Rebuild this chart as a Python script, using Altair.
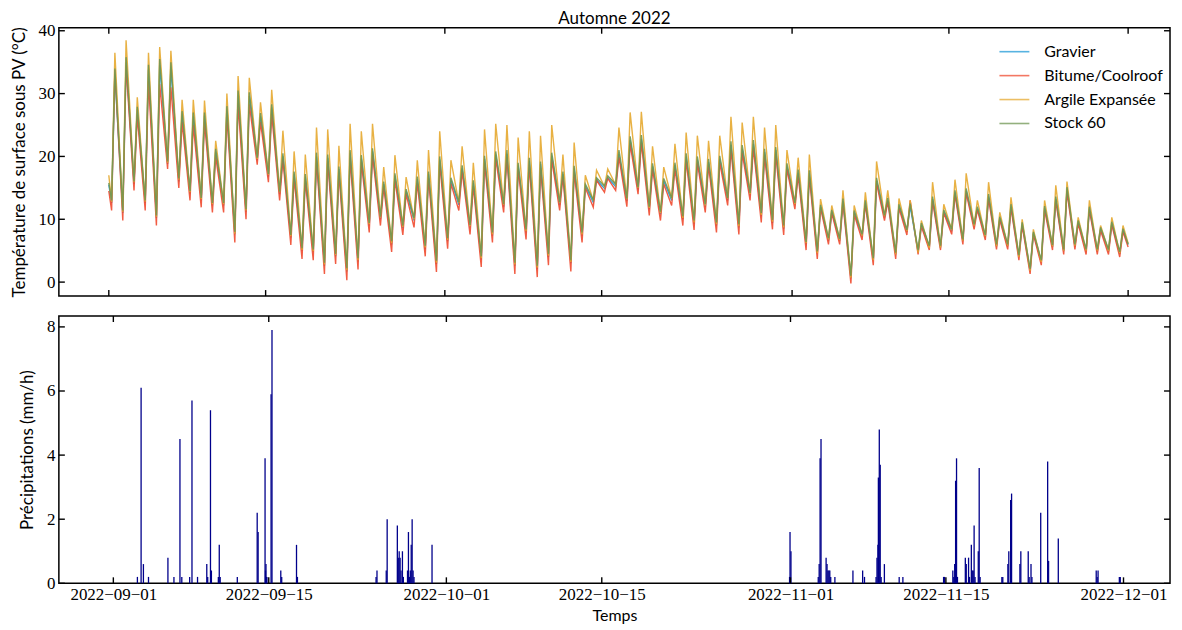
import altair as alt
import pandas as pd

# ---------------- data ----------------
series_names = ["Gravier", "Bitume/Coolroof", "Argile Expansée", "Stock 60"]
series_colors = ["#1f9ad8", "#f04a2f", "#e6a92f", "#6f9652"]

# value at 2022-09-01 00:00 and at 2022-12-01 00:00
start_values = [15.5, 14.5, 17.0, 15.8]
end_values = [6.0, 5.6, 6.2, 6.0]

# daily afternoon maxima (Sep 1 .. Nov 30)
argile_max = [36.5, 38.5, 29.4, 36.5, 37.4, 36.8, 29.0, 29.0, 28.9, 22.5,
              30.0, 32.8, 32.5, 28.6, 30.6, 24.1, 20.8, 20.3, 24.6, 24.3,
              21.7, 25.2, 24.0, 25.2, 18.3, 20.2, 16.7, 19.4, 21.0, 24.0,
              19.4, 21.6, 19.0, 24.3, 25.2, 25.0, 23.0, 24.0, 23.3, 25.0,
              20.3, 22.2, 17.0, 17.8, 18.0, 24.6, 27.0, 27.1, 21.6, 18.3,
              22.0, 23.8, 23.3, 22.5, 23.3, 26.3, 25.4, 26.3, 24.6, 25.0,
              21.0, 19.8, 20.3, 13.2, 12.2, 14.6, 12.2, 14.3, 19.2, 14.6,
              13.3, 13.0, 9.8, 15.9, 12.4, 16.3, 17.3, 13.0, 15.9, 11.1,
              13.5, 10.0, 8.4, 13.0, 15.4, 16.0, 10.3, 13.0, 9.0, 10.3,
              9.0]
stock_max = [34.0, 35.8, 27.9, 34.6, 35.5, 35.0, 27.2, 27.0, 27.0, 21.2,
             28.0, 30.5, 30.2, 26.9, 28.3, 20.5, 17.6, 17.2, 20.6, 20.3,
             18.4, 21.0, 20.2, 21.3, 16.0, 17.3, 14.8, 16.8, 17.6, 20.0,
             16.6, 18.6, 16.2, 20.1, 20.8, 21.0, 19.0, 19.8, 19.2, 20.6,
             17.6, 18.5, 15.6, 16.6, 16.9, 21.0, 23.2, 23.4, 18.9, 16.5,
             19.0, 20.5, 20.0, 19.6, 20.1, 22.4, 21.8, 22.6, 21.2, 21.5,
             18.9, 17.9, 17.8, 12.3, 11.5, 13.3, 11.4, 13.0, 16.6, 13.4,
             12.4, 12.5, 9.4, 13.6, 11.5, 14.6, 14.9, 12.0, 14.0, 10.4,
             12.4, 9.5, 8.0, 12.1, 13.6, 15.1, 9.8, 12.0, 8.7, 9.6,
             8.5]
gravier_max = [33.2, 35.0, 27.5, 33.8, 34.6, 34.2, 26.7, 26.4, 26.5, 20.8,
               27.4, 29.8, 29.6, 26.4, 27.8, 20.0, 17.2, 16.8, 20.0, 19.8,
               18.0, 20.5, 19.7, 20.8, 15.6, 16.9, 14.5, 16.4, 17.2, 19.5,
               16.2, 18.1, 15.8, 19.6, 20.3, 20.4, 18.6, 19.3, 18.8, 20.1,
               17.2, 18.1, 15.3, 16.3, 16.6, 20.4, 22.6, 22.8, 18.4, 16.1,
               18.6, 20.0, 19.5, 19.1, 19.6, 21.8, 21.2, 22.0, 20.7, 21.0,
               18.4, 17.4, 17.3, 12.0, 11.2, 12.9, 11.1, 12.7, 16.1, 13.0,
               12.1, 12.1, 9.1, 13.2, 11.2, 14.2, 14.5, 11.7, 13.6, 10.1,
               12.0, 9.2, 7.8, 11.8, 13.2, 14.7, 9.5, 11.7, 8.4, 9.3,
               8.2]
bitume_max = [33.8, 34.5, 26.5, 32.0, 31.5, 31.0, 25.5, 25.0, 25.5, 20.0,
              26.5, 28.5, 28.3, 25.5, 26.8, 19.5, 16.5, 16.2, 19.4, 19.2,
              17.4, 19.8, 19.1, 20.2, 15.2, 16.3, 14.0, 15.8, 16.6, 18.9,
              15.7, 17.6, 15.3, 19.0, 19.7, 19.9, 18.0, 18.7, 18.2, 19.5,
              16.8, 17.5, 15.0, 16.2, 16.5, 19.9, 22.0, 22.2, 18.0, 15.6,
              18.0, 19.4, 19.0, 18.6, 19.0, 21.2, 20.6, 21.4, 20.1, 20.4,
              18.0, 17.0, 16.8, 11.8, 11.0, 12.6, 10.8, 12.4, 15.7, 12.8,
              11.8, 13.0, 8.9, 12.9, 11.0, 13.9, 14.2, 11.5, 13.3, 9.9,
              11.8, 9.0, 7.6, 11.5, 13.0, 14.4, 9.3, 11.5, 8.2, 9.1,
              8.0]

# daily early-morning minima (Sep 1 .. Nov 30)
bitume_min = [11.4, 9.8, 14.6, 11.4, 9.0, 18.0, 15.0, 13.0, 11.9, 11.1,
              11.1, 6.3, 10.0, 18.7, 15.9, 13.0, 5.9, 3.7, 3.5, 1.3,
              2.9, 0.3, 2.0, 7.9, 9.0, 4.8, 7.5, 8.7, 4.1, 1.6,
              5.3, 11.4, 7.6, 2.4, 6.3, 11.1, 1.3, 6.8, 0.8, 2.7,
              11.4, 1.7, 6.3, 11.9, 14.3, 14.6, 12.0, 14.0, 10.6, 9.8,
              12.2, 9.0, 8.3, 11.1, 7.9, 12.2, 7.6, 13.0, 9.5, 8.4,
              7.5, 11.6, 5.1, 3.7, 6.0, 6.0, -0.2, 6.7, 2.7, 9.8,
              3.7, 7.5, 4.4, 5.1, 5.1, 7.6, 6.0, 8.4, 6.7, 5.2,
              5.2, 3.5, 1.3, 2.7, 5.1, 4.4, 5.2, 4.4, 4.4, 4.4,
              4.0]
gravier_min = [12.6, 11.0, 15.6, 12.6, 10.2, 18.8, 16.0, 14.1, 13.0, 12.2,
               12.2, 7.6, 11.2, 19.4, 16.8, 14.0, 7.1, 5.0, 4.8, 2.6,
               4.1, 1.7, 3.3, 9.0, 10.0, 6.0, 8.6, 9.8, 5.3, 2.9,
               6.5, 12.3, 8.7, 3.6, 7.4, 12.0, 2.6, 7.9, 2.1, 4.0,
               12.3, 3.0, 7.4, 12.7, 14.9, 15.2, 12.9, 14.7, 11.6, 10.8,
               13.0, 10.0, 9.3, 12.0, 9.0, 13.0, 8.7, 13.8, 10.5, 9.4,
               8.5, 12.3, 6.0, 4.6, 6.6, 6.6, 0.6, 7.3, 3.5, 10.3,
               4.4, 8.0, 4.8, 5.5, 5.5, 8.1, 6.5, 8.9, 7.2, 5.7,
               5.7, 4.0, 1.8, 3.2, 5.6, 4.9, 5.7, 4.9, 4.9, 4.9,
               4.5]
stock_min = [13.0, 11.4, 16.0, 13.0, 10.6, 19.2, 16.5, 14.5, 13.4, 12.6,
             12.6, 8.0, 11.6, 19.8, 17.2, 14.4, 7.5, 5.4, 5.2, 3.1,
             4.5, 2.2, 3.8, 9.4, 10.4, 6.5, 9.0, 10.2, 5.8, 3.4,
             7.0, 12.7, 9.1, 4.1, 7.9, 12.4, 3.1, 8.4, 2.6, 4.5,
             12.7, 3.5, 7.9, 13.1, 15.3, 15.6, 13.3, 15.1, 12.0, 11.2,
             13.4, 10.5, 9.8, 12.4, 9.5, 13.4, 9.2, 14.2, 11.0, 9.9,
             9.0, 12.6, 6.4, 4.9, 7.0, 6.9, 1.0, 7.6, 3.8, 10.6,
             4.7, 8.3, 5.1, 5.8, 5.8, 8.4, 6.8, 9.2, 7.5, 6.0,
             6.0, 4.3, 2.1, 3.5, 5.9, 5.2, 6.0, 5.2, 5.2, 5.2,
             4.8]
argile_min = [12.8, 11.2, 15.9, 12.8, 10.4, 19.0, 16.3, 14.3, 13.2, 12.4,
              12.4, 7.7, 11.4, 19.6, 17.1, 14.3, 7.3, 5.1, 4.9, 2.8,
              4.3, 1.9, 3.5, 9.2, 10.3, 6.2, 8.8, 10.0, 5.5, 3.1,
              6.7, 12.6, 8.9, 3.8, 7.6, 12.3, 2.8, 8.1, 2.3, 4.2,
              12.6, 3.2, 7.6, 13.0, 15.2, 15.5, 13.2, 15.0, 11.8, 11.0,
              13.3, 10.2, 9.5, 12.2, 9.2, 13.3, 8.9, 14.0, 10.7, 9.6,
              8.7, 12.4, 6.2, 4.6, 6.8, 6.7, 0.7, 7.4, 3.5, 10.5,
              4.4, 8.1, 4.7, 5.4, 5.5, 8.3, 6.6, 9.0, 7.3, 5.7,
              5.8, 4.0, 1.8, 3.2, 5.7, 5.0, 5.8, 5.0, 5.0, 5.0,
              4.6]

# hourly precipitation (mm/h)
precip_time = [
    "2022-09-03T04:00", "2022-09-03T12:00", "2022-09-03T17:00", "2022-09-04T04:00",
    "2022-09-05T22:00", "2022-09-06T11:00", "2022-09-07T00:00", "2022-09-07T04:00",
    "2022-09-07T21:00", "2022-09-08T02:00", "2022-09-08T14:00", "2022-09-09T10:00",
    "2022-09-09T12:00", "2022-09-09T18:00", "2022-09-09T20:00", "2022-09-10T11:00",
    "2022-09-10T13:00", "2022-09-10T15:00", "2022-09-12T04:00", "2022-09-13T23:00",
    "2022-09-14T01:00", "2022-09-14T16:00", "2022-09-14T17:00", "2022-09-14T18:00",
    "2022-09-14T19:00", "2022-09-14T20:00", "2022-09-15T05:00", "2022-09-15T07:00",
    "2022-09-16T02:00", "2022-09-16T04:00", "2022-09-17T12:00", "2022-09-17T14:00",
    "2022-09-24T16:00", "2022-09-24T18:00", "2022-09-25T14:00", "2022-09-25T16:00",
    "2022-09-26T14:00", "2022-09-26T16:00", "2022-09-26T18:00", "2022-09-26T20:00",
    "2022-09-26T22:00", "2022-09-27T01:00", "2022-09-27T03:00", "2022-09-27T12:00",
    "2022-09-27T14:00", "2022-09-27T16:00", "2022-09-27T18:00", "2022-09-27T20:00",
    "2022-09-27T22:00", "2022-09-28T00:00", "2022-09-28T02:00", "2022-09-29T17:00",
    "2022-10-31T22:00", "2022-10-31T23:00", "2022-11-01T01:00", "2022-11-03T12:00",
    "2022-11-03T14:00", "2022-11-03T16:00", "2022-11-03T18:00", "2022-11-04T05:00",
    "2022-11-04T07:00", "2022-11-04T09:00", "2022-11-04T11:00", "2022-11-04T13:00",
    "2022-11-04T15:00", "2022-11-05T00:00", "2022-11-06T15:00", "2022-11-07T12:00",
    "2022-11-07T16:00", "2022-11-08T17:00", "2022-11-08T19:00", "2022-11-08T21:00",
    "2022-11-08T22:00", "2022-11-09T00:00", "2022-11-09T02:00", "2022-11-09T04:00",
    "2022-11-09T11:00", "2022-11-10T19:00", "2022-11-11T03:00", "2022-11-14T19:00",
    "2022-11-14T21:00", "2022-11-15T15:00", "2022-11-15T17:00", "2022-11-15T19:00",
    "2022-11-15T21:00", "2022-11-15T23:00", "2022-11-16T01:00", "2022-11-16T18:00",
    "2022-11-16T20:00", "2022-11-17T01:00", "2022-11-17T03:00", "2022-11-17T07:00",
    "2022-11-17T09:00", "2022-11-17T11:00", "2022-11-17T13:00", "2022-11-17T15:00",
    "2022-11-17T22:00", "2022-11-18T00:00", "2022-11-18T02:00", "2022-11-20T01:00",
    "2022-11-20T03:00", "2022-11-20T14:00", "2022-11-20T16:00", "2022-11-20T20:00",
    "2022-11-20T22:00", "2022-11-21T16:00", "2022-11-21T18:00", "2022-11-22T10:00",
    "2022-11-22T12:00", "2022-11-22T16:00", "2022-11-22T18:00", "2022-11-23T13:00",
    "2022-11-24T04:00", "2022-11-24T06:00", "2022-11-25T03:00", "2022-11-28T13:00",
    "2022-11-28T15:00", "2022-11-28T17:00", "2022-11-30T15:00", "2022-11-30T17:00",
]
precip_mm = [
    0.2, 6.1, 0.6, 0.2,
    0.8, 0.2, 4.5, 0.2,
    0.2, 5.7, 0.2, 0.6,
    0.2, 5.4, 0.4, 0.2,
    1.2, 0.2, 0.2, 2.2,
    1.6, 3.9, 0.4, 0.6,
    0.2, 0.2, 5.9, 7.9,
    0.4, 0.2, 1.2, 0.2,
    0.2, 0.4, 0.4, 2.0,
    1.8, 0.8, 1.0, 0.8,
    0.4, 1.0, 0.2, 0.4,
    1.6, 0.2, 0.4, 1.2,
    2.0, 0.4, 0.2, 1.2,
    0.2, 1.6, 1.0, 0.2,
    0.6, 3.9, 4.5, 0.8,
    0.6, 0.4, 0.4, 0.4,
    0.2, 0.2, 0.4, 0.4,
    0.2, 0.2, 0.8, 1.2,
    3.3, 4.8, 3.7, 0.2,
    0.6, 0.2, 0.2, 0.2,
    0.2, 0.4, 0.2, 0.6,
    3.2, 3.9, 0.2, 0.8,
    0.6, 0.8, 0.2, 1.2,
    0.4, 0.4, 1.8, 0.2,
    1.0, 3.6, 0.2, 0.2,
    0.2, 0.6, 1.0, 2.6,
    2.8, 0.6, 1.0, 1.0,
    0.2, 0.6, 0.2, 2.2,
    3.8, 0.7, 1.4, 0.4,
    0.2, 0.4, 0.2, 0.2,
]

tick_dates = ["2022-09-01", "2022-09-15", "2022-10-01", "2022-10-15",
              "2022-11-01", "2022-11-15", "2022-12-01"]
temp_ticks = [0, 10, 20, 30, 40]
precip_ticks = [0, 2, 4, 6, 8]

# ---------------- tables ----------------
days = pd.date_range("2022-09-01", periods=91, freq="D")
series_min = [gravier_min, bitume_min, argile_min, stock_min]
series_max = [gravier_max, bitume_max, argile_max, stock_max]
rows = []
for name, mins, maxs, v0, v1 in zip(series_names, series_min, series_max,
                                    start_values, end_values):
    rows.append({"t": "2022-09-01T00:00:00", "v": v0, "s": name})
    for d, lo, hi in zip(days, mins, maxs):
        ds = d.strftime("%Y-%m-%d")
        rows.append({"t": ds + "T06:00:00", "v": lo, "s": name})
        rows.append({"t": ds + "T13:00:00", "v": hi, "s": name})
    rows.append({"t": "2022-12-01T00:00:00", "v": v1, "s": name})
temp_df = pd.DataFrame(rows)

precip_df = pd.DataFrame({"t": [p + ":00" for p in precip_time], "v": precip_mm})
xt_df = pd.DataFrame({"t": [d + "T00:00:00" for d in tick_dates]})
yt_top_df = pd.DataFrame({"v": temp_ticks})
yt_bot_df = pd.DataFrame({"v": precip_ticks})

# ---------------- layout ----------------
W = 1114
H_TOP = 269
H_BOT = 268
TICK = 6
SERIF = "Liberation Serif"
SANS = "Lato"

xscale = alt.Scale(domain=[alt.DateTime(year=2022, month=8, date=27, hours=13),
                           alt.DateTime(year=2022, month=12, date=4, hours=17, minutes=45)])
tick_dt = [alt.DateTime(year=int(d[:4]), month=int(d[5:7]), date=int(d[8:10])) for d in tick_dates]

axis_x_top = alt.Axis(labels=False, ticks=False, domain=False, grid=False, title=None,
                      values=tick_dt)
axis_x_bot = alt.Axis(ticks=False, domain=False, grid=False, title="Temps",
                      values=tick_dt, format="%Y\u2212%m\u2212%d",
                      labelFont=SERIF, labelFontSize=17, labelPadding=3,
                      titleFont=SANS, titleFontSize=16, titleFontWeight="normal",
                      titlePadding=5, labelColor="black", titleColor="black")

yscale_top = alt.Scale(domain=[-2.22, 40.48], nice=False, zero=False)
yscale_bot = alt.Scale(domain=[0, 8.34], nice=False)

axis_y_top = alt.Axis(ticks=False, domain=False, grid=False, values=temp_ticks,
                      title="Température de surface sous PV (°C)",
                      labelFont=SERIF, labelFontSize=17, labelPadding=4,
                      titleFont=SANS, titleFontSize=17, titleFontWeight="normal",
                      titlePadding=9, labelColor="black", titleColor="black")
axis_y_bot = alt.Axis(ticks=False, domain=False, grid=False, values=precip_ticks,
                      title="Précipitations (mm/h)",
                      labelFont=SERIF, labelFontSize=17, labelPadding=4,
                      titleFont=SANS, titleFontSize=17, titleFontWeight="normal",
                      titlePadding=10, labelColor="black", titleColor="black")

color_scale = alt.Scale(domain=series_names, range=series_colors)
legend = alt.Legend(title=None, orient="none", legendX=W - 172, legendY=8,
                    symbolType="stroke", symbolSize=900, symbolStrokeWidth=1.6,
                    symbolOpacity=0.75,
                    labelFont=SANS, labelFontSize=16, labelOffset=14,
                    labelColor="black", rowPadding=0)

x_top = alt.X("t:T", scale=xscale, axis=axis_x_top)
y_top = alt.Y("v:Q", scale=yscale_top, axis=axis_y_top)
x_bot = alt.X("t:T", scale=xscale, axis=axis_x_bot)
y_bot = alt.Y("v:Q", scale=yscale_bot, axis=axis_y_bot)

line_layers = []
for name in series_names:
    line_layers.append(
        alt.Chart(temp_df).transform_filter(alt.datum.s == name)
        .mark_line(strokeWidth=1.4, opacity=0.9)
        .encode(x=x_top, y=y_top,
                color=alt.Color("s:N", scale=color_scale, legend=legend))
    )

def tick_layers(x_enc, y_enc, yt_df, h):
    rule = dict(color="black", strokeWidth=1.4)
    return [
        alt.Chart(xt_df).mark_rule(**rule).encode(x=x_enc, y=alt.value(0), y2=alt.value(TICK)),
        alt.Chart(xt_df).mark_rule(**rule).encode(x=x_enc, y=alt.value(h), y2=alt.value(h - TICK)),
        alt.Chart(yt_df).mark_rule(**rule).encode(y=y_enc, x=alt.value(0), x2=alt.value(TICK)),
        alt.Chart(yt_df).mark_rule(**rule).encode(y=y_enc, x=alt.value(W), x2=alt.value(W - TICK)),
    ]

top = alt.layer(*line_layers, *tick_layers(x_top, y_top, yt_top_df, H_TOP)).properties(
    width=W, height=H_TOP,
    title=alt.Title("Automne 2022", font=SANS, fontSize=17, fontWeight="normal",
                    color="black", offset=-6, anchor="middle"),
)

bars = alt.Chart(precip_df).mark_bar(width=1.3, color="#00008b").encode(x=x_bot, y=y_bot)
bottom = alt.layer(bars, *tick_layers(x_bot, y_bot, yt_bot_df, H_BOT)).properties(
    width=W, height=H_BOT)

chart = alt.vconcat(top, bottom, spacing=15).properties(
    padding={"left": 2, "top": 0, "right": 2, "bottom": 0},
    background="white",
).configure_view(stroke="black", strokeWidth=1.5).configure_axis(grid=False)

chart.save("out.html", embed_options={"renderer": "svg", "actions": False})
